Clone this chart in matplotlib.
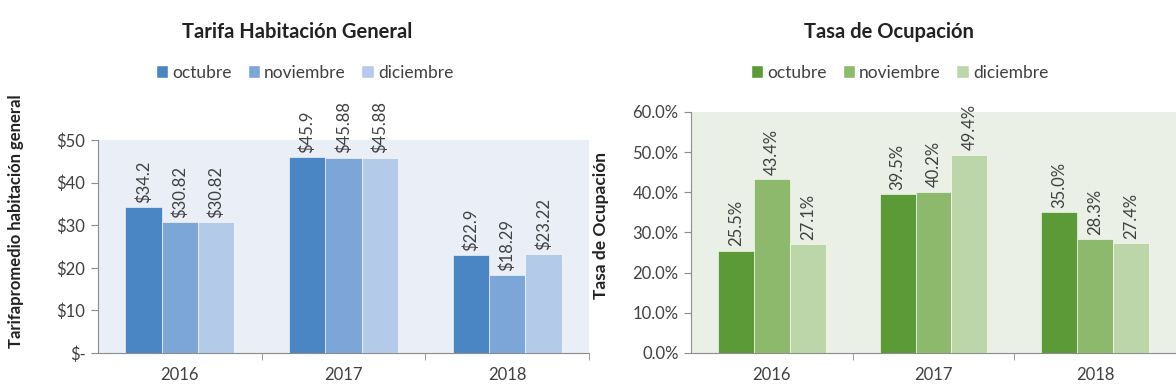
import matplotlib

matplotlib.use("Agg")
import matplotlib.pyplot as plt
import numpy as np
from matplotlib.ticker import FixedLocator, FuncFormatter

plt.rcParams["font.family"] = ["Lato", "DejaVu Sans"]

years = ["2016", "2017", "2018"]
months = ["octubre", "noviembre", "diciembre"]
tarifa = {
    "octubre": [34.2, 45.9, 22.9],
    "noviembre": [30.82, 45.88, 18.29],
    "diciembre": [30.82, 45.88, 23.22],
}
ocupacion = {
    "octubre": [25.5, 39.5, 35.0],
    "noviembre": [43.4, 40.2, 28.3],
    "diciembre": [27.1, 49.4, 27.4],
}

BLUES = ["#4a85c4", "#7ca5d8", "#b3cae8"]
GREENS = ["#5c9a38", "#8cb96c", "#bdd6a9"]
TEXT = "#404040"
AXIS = "#8c8c8c"


def bar_panel(ax, data, colors, bg, fmt, ylabel, ymax, step, tickfmt, ylabel_size):
    x = np.arange(len(years))
    w = 0.222
    for i, m in enumerate(months):
        vals = data[m]
        pos = x + (i - 1) * w
        ax.bar(pos, vals, w, color=colors[i], edgecolor="white", linewidth=0.4, zorder=3)
        for px, v in zip(pos, vals):
            ax.annotate(fmt(v), (px, v), xytext=(0, 3), textcoords="offset points",
                        rotation=90, ha="center", va="bottom", fontsize=12,
                        color=TEXT, annotation_clip=False)
    ax.set_facecolor(bg)
    ax.set_xlim(-0.5, len(years) - 0.5)
    ax.set_ylim(0, ymax)
    ax.set_yticks(np.arange(0, ymax + step / 2, step))
    ax.yaxis.set_major_formatter(FuncFormatter(tickfmt))
    ax.set_xticks(x)
    ax.set_xticklabels(years)
    ax.xaxis.set_minor_locator(FixedLocator([0.5, 1.5, 2.5]))
    ax.tick_params(axis="x", which="major", length=0, pad=10, labelsize=12, colors=TEXT)
    ax.tick_params(axis="x", which="minor", length=5, color=AXIS, direction="out")
    ax.tick_params(axis="y", length=5, color=AXIS, labelsize=12, labelcolor=TEXT, pad=4)
    for s in ("top", "right"):
        ax.spines[s].set_visible(False)
    for s in ("left", "bottom"):
        ax.spines[s].set_color(AXIS)
        ax.spines[s].set_linewidth(0.8)
    ax.set_ylabel(ylabel, fontsize=ylabel_size, fontweight="bold", color="#222222")


fig = plt.figure(figsize=(11.76, 3.92), dpi=100)
ax1 = fig.add_axes([0.0833, 0.0995, 0.4175, 0.5434])
ax2 = fig.add_axes([0.5876, 0.0995, 0.4124, 0.6148])

bar_panel(ax1, tarifa, BLUES, "#e9eef7", lambda v: f"${v:g}",
          "Tarifapromedio habitación general", 50, 10,
          lambda v, p: "$-" if v == 0 else f"${v:.0f}", 12)
bar_panel(ax2, ocupacion, GREENS, "#ebf0e6", lambda v: f"{v:.1f}%",
          "Tasa de Ocupación", 60, 10,
          lambda v, p: f"{v:.1f}%", 12.5)
ax1.yaxis.set_label_coords(-0.15, 0.62)
ax2.yaxis.set_label_coords(-0.17, 0.53)

fig.text(0.253, 0.918, "Tarifa Habitación General", ha="center", va="center",
         fontsize=14.5, fontweight="bold", color="#222222")
fig.text(0.756, 0.918, "Tasa de Ocupación", ha="center", va="center",
         fontsize=14.5, fontweight="bold", color="#222222")

for cols, cx in ((BLUES, 0.259), (GREENS, 0.765)):
    fig.legend([plt.Rectangle((0, 0), 1, 1, fc=c, ec="white") for c in cols],
               months, loc="center", bbox_to_anchor=(cx, 0.815), ncol=3, frameon=False,
               fontsize=12.5, handlelength=0.7, handleheight=0.7, handletextpad=0.25,
               columnspacing=0.9, labelcolor=TEXT)

fig.savefig("out.png", dpi=100)
